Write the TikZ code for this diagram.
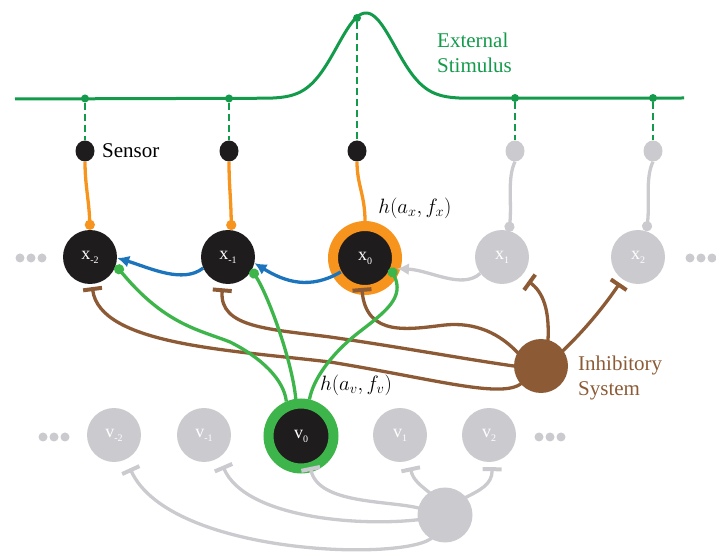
\documentclass[tikz,border=0pt]{standalone}
\usepackage{fontspec}
\setmainfont{Liberation Serif}
\usetikzlibrary{arrows.meta,shapes.geometric}

\definecolor{nblack}{HTML}{1E1C1C}
\definecolor{ngray}{HTML}{CBCBCF}
\definecolor{norange}{HTML}{F7941D}
\definecolor{ngreen}{HTML}{3DB54A}
\definecolor{sgreen}{HTML}{139B4B}
\definecolor{nblue}{HTML}{1C75BC}
\definecolor{nbrown}{HTML}{8C5B36}

% neuron label: letter with a lowered index
\newcommand\nlab[2]{#1\raisebox{-4pt}{\fontsize{10}{10}\selectfont #2}}

\begin{document}
\begin{tikzpicture}[x=1pt,y=1pt,
  every node/.style={inner sep=0pt},
  neuron/.style={circle,fill=nblack,minimum size=54pt,text=white,font=\fontsize{18}{18}\selectfont},
  ghost/.style={neuron,fill=ngray},
  xring/.style={neuron,draw=norange,line width=10pt,minimum size=64pt},
  vring/.style={neuron,draw=ngreen,line width=10pt,minimum size=65pt},
  sensor/.style={ellipse,fill=nblack,minimum width=19pt,minimum height=21pt},
  gsensor/.style={sensor,fill=ngray},
  sdot/.style={circle,fill=sgreen,minimum size=8pt},
  soma/.style={circle,fill=nbrown,minimum size=54pt},
  gsoma/.style={circle,fill=ngray,minimum size=55pt},
  wire/.style={line width=3.3pt},
  feed/.style={wire,draw=norange,-{Circle[length=10pt]}},
  gfeed/.style={wire,draw=ngray,-{Circle[length=10pt]}},
  lateral/.style={wire,draw=nblue,-{Latex[length=12pt,width=12pt]}},
  glateral/.style={wire,draw=ngray,-{Latex[length=12pt,width=12pt]}},
  excite/.style={wire,draw=ngreen,-{Circle[length=10pt]}},
  inhib/.style={wire,draw=nbrown,-{Bar[width=19pt,line width=4pt]}},
  ginhib/.style={wire,draw=ngray,-{Bar[width=19pt,line width=4pt]}},
  probe/.style={draw=sgreen,line width=1.2pt,dash pattern=on 7pt off 4pt},
  stim/.style={draw=sgreen,line width=3pt},
  lab/.style={font=\fontsize{21}{25}\selectfont},
  mathlab/.style={font=\fontsize{22}{26}\selectfont}
]
\useasboundingbox (0,0) rectangle (716,-556);

% ---- external stimulus profile and sampling points
\draw[stim] (15,-99) -- plot[domain=268:464,samples=140]
  (\x,{-(98.5-85.5*exp(-((\x-366)/41)^2))}) -- (684,-98);
\node[sdot] (d1) at (85,-98.5) {};
\node[sdot] (d2) at (229,-98.5) {};
\node[sdot] (d3) at (357,-18) {};
\node[sdot] (d4) at (515,-98) {};
\node[sdot] (d5) at (653,-98) {};
\node[lab,text=sgreen,anchor=west,align=left] (stimlab) at (437,-52.5) {External\\Stimulus};

% ---- sensors
\node[sensor] (s1) at (85,-151) {};
\node[sensor] (s2) at (229,-151) {};
\node[sensor] (s3) at (357,-151) {};
\node[gsensor] (gs1) at (515,-151) {};
\node[gsensor] (gs2) at (653,-151) {};
\node[lab,anchor=west] (sensorlab) at (102,-151) {Sensor};
\foreach \a/\b in {d1/s1,d2/s2,d3/s3,d4/gs1,d5/gs2}
  \draw[probe] (\a) -- (\b);

% ---- x layer
\node[neuron] (xm2) at (90,-257) {\nlab{x}{-2}};
\node[neuron] (xm1) at (228,-257) {\nlab{x}{-1}};
\node[xring]  (x0)  at (365,-258) {\nlab{x}{0}};
\node[ghost]  (x1)  at (502,-257) {\nlab{x}{1}};
\node[ghost]  (x2)  at (638,-257) {\nlab{x}{2}};
\foreach \p in {20,31,42,690,701,712}
  \fill[ngray] (\p,-258) circle (4.5);
\node[mathlab] (hx) at (415,-208) {$h(a_x,f_x)$};

% ---- v layer
\node[ghost] (vm2) at (114,-435) {\nlab{v}{-2}};
\node[ghost] (vm1) at (204,-435) {\nlab{v}{-1}};
\node[vring] (v0)  at (301,-436) {\nlab{v}{0}};
\node[ghost] (v1)  at (400,-435) {\nlab{v}{1}};
\node[ghost] (v2)  at (489,-435) {\nlab{v}{2}};
\foreach \p in {43,54,65,539,550,561}
  \fill[ngray] (\p,-437) circle (4.5);
\node[mathlab] (hv) at (356,-385) {$h(a_v,f_v)$};

% ---- inhibitory systems
\node[soma] (ib) at (541,-366) {};
\node[lab,text=nbrown,anchor=west,align=left] (iblab) at (578,-378) {Inhibitory\\System};
\node[gsoma] (gb) at (445,-515) {};

% inactive inhibition of the v layer
\draw[ginhib,shorten <=-3pt,shorten >=-5.2pt] (gb.165) .. controls (390,-500) and (318,-505) .. (v0.-74);
\draw[ginhib,shorten <=-3pt,shorten >=6.8pt] (gb.125) .. controls (420,-485) and (413,-480) .. (v1.-71);
\draw[ginhib,shorten <=-3pt,shorten >=5.2pt] (gb.40) .. controls (480,-490) and (492,-485) .. (v2.-83);
\draw[ginhib,shorten <=-3pt,shorten >=9pt] (gb.190) .. controls (360,-527) and (245,-518) .. (vm1.-56);
\draw[ginhib,shorten <=-3pt,shorten >=9.7pt] (gb.240) .. controls (410,-562) and (170,-556) .. (vm2.-64);

% inhibition of the x layer
\draw[inhib,shorten <=-3pt,shorten >=-7pt] (ib.150) .. controls (500,-333) and (475,-322) .. (445,-325)
  .. controls (410,-329) and (366,-338) .. (x0.-94);
\draw[inhib,shorten <=-3pt,shorten >=4.6pt] (ib.180) .. controls (470,-360) and (400,-347) .. (330,-337)
  .. controls (270,-329) and (219,-328) .. (xm1.-101);
\draw[inhib,shorten <=-3pt,shorten >=3pt] (ib.222) .. controls (505,-400) and (440,-380) .. (330,-362)
  .. controls (230,-350) and (100,-345) .. (xm2.-86);
\draw[inhib,shorten <=-3pt,shorten >=8.4pt] (ib.75) .. controls (550,-310) and (543,-292) .. (x1.-45);
\draw[inhib,shorten <=-3pt,shorten >=4.6pt] (ib.35) .. controls (585,-330) and (605,-305) .. (x2.-125);

% excitation from v0
\draw[excite] (v0.113) .. controls (284,-380) and (262,-358) .. (230,-342)
  .. controls (200,-330) and (165,-325) .. (xm2.-18);
\draw[excite,shorten >=-1pt] (v0.98) .. controls (292,-360) and (268,-295) .. (xm1.-29);
\draw[excite,shorten >=-12pt] (v0.77) .. controls (313,-380) and (330,-355) .. (358,-333)
  .. controls (385,-312) and (405,-298) .. (x0.-34);

% sensor to neuron feeds
\draw[feed] (s1.south) .. controls (85,-185) and (89,-200) .. (xm2.90);
\draw[feed] (s2.south) .. controls (229,-185) and (231,-200) .. (xm1.83);
\draw[wire,draw=norange] (s3.south) .. controls (357,-185) and (365,-195) .. (x0.north);
\draw[gfeed,shorten >=-1pt] (gs1.south) .. controls (507,-178) and (512,-203) .. (x1.75);
\draw[gfeed] (gs2.south) .. controls (645,-178) and (650,-203) .. (x2.72);

% lateral propagation along the x layer
\draw[lateral,shorten <=-9pt] (x0.210) .. controls (310,-290) and (285,-282) .. (xm1.-13);
\draw[lateral] (xm1.204) .. controls (183,-284) and (150,-268) .. (xm2.-2);
\draw[glateral,shorten >=-3.5pt] (x1.217) .. controls (462,-290) and (430,-270) .. (x0.-17);
\end{tikzpicture}
\end{document}
